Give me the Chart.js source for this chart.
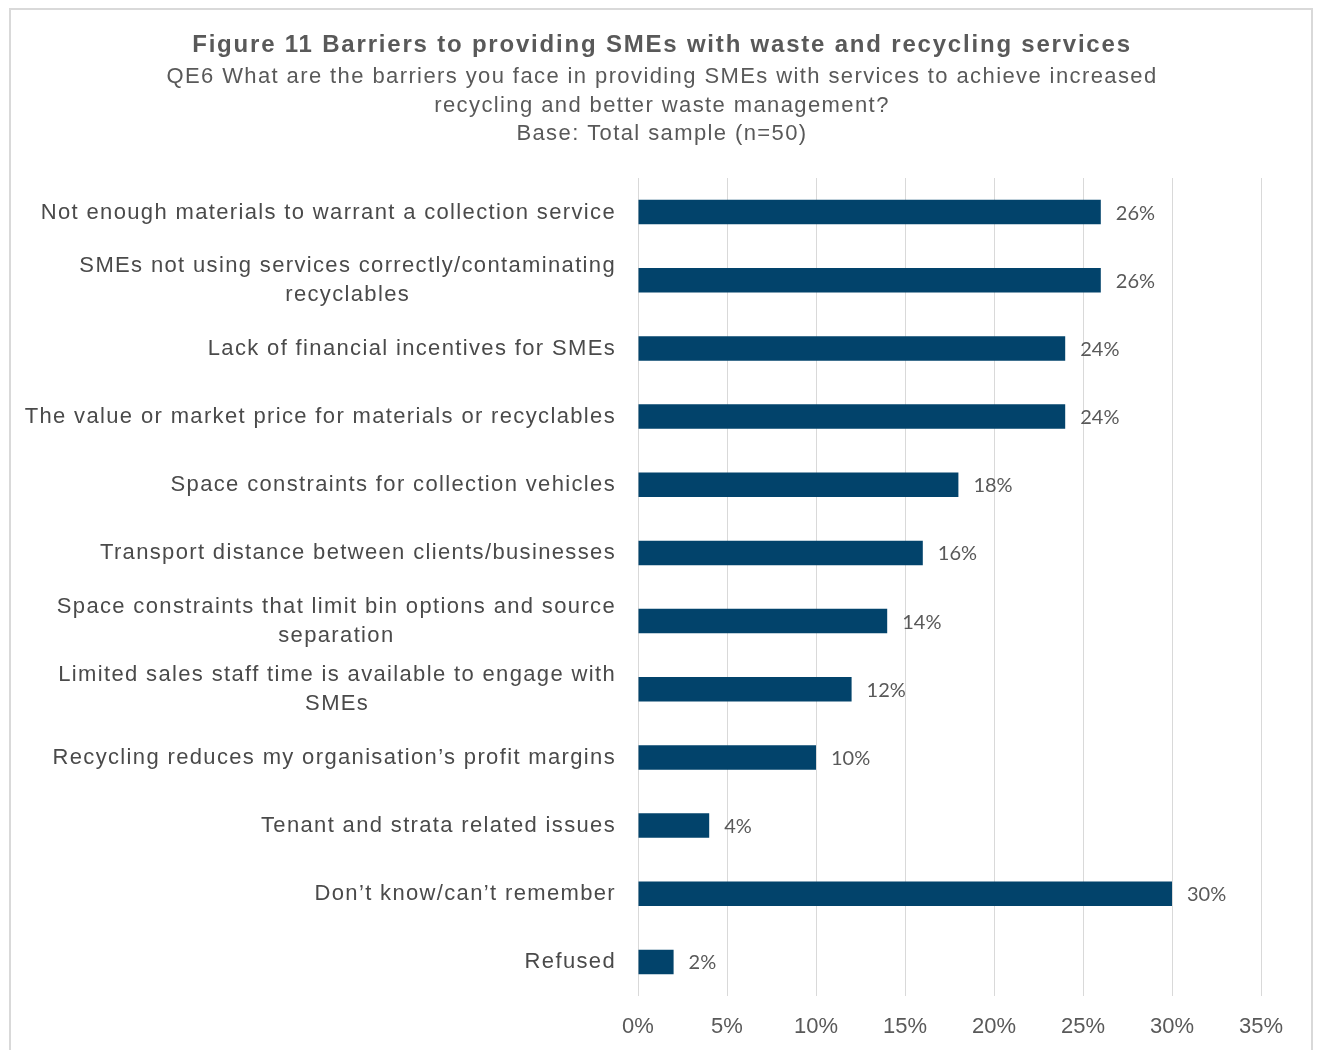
<!DOCTYPE html>
<html>
<head>
<meta charset="utf-8">
<script src="https://cdn.jsdelivr.net/npm/chart.js@4"></script>
<style>
  html, body { margin: 0; padding: 0; background: #ffffff; }
  #wrap { position: relative; width: 1317px; height: 1050px; overflow: hidden; }
  #frame { position: absolute; left: 9px; top: 8px; width: 1304px; height: 1060px; border: 2px solid #d9d9d9; box-sizing: border-box; }
  canvas { position: absolute; left: 0; top: 0; }
</style>
</head>
<body>
<div id="wrap">
  <div id="frame"></div>
  <canvas id="chart" width="1317" height="1050"></canvas>
</div>
<script>
// categories and values (percent of respondents)
const categories = [
    ['Not enough materials to warrant a collection service'],
    ['SMEs not using services correctly/contaminating', 'recyclables'],
    ['Lack of financial incentives for SMEs'],
    ['The value or market price for materials or recyclables'],
    ['Space constraints for collection vehicles'],
    ['Transport distance between clients/businesses'],
    ['Space constraints that limit bin options and source', 'separation'],
    ['Limited sales staff time is available to engage with', 'SMEs'],
    ['Recycling reduces my organisation\u2019s profit margins'],
    ['Tenant and strata related issues'],
    ['Don\u2019t know/can\u2019t remember'],
    ['Refused']
];
const values = [26, 26, 24, 24, 18, 16, 14, 12, 10, 4, 30, 2];
const xTicks = [0, 5, 10, 15, 20, 25, 30, 35];

const titleText = 'Figure 11 Barriers to providing SMEs with waste and recycling services';
const subtitleLines = [
    'QE6 What are the barriers you face in providing SMEs with services to achieve increased',
    'recycling and better waste management?',
    'Base: Total sample (n=50)'
];

const barColor = '#02436b';
const sans = '"Liberation Sans", Arial, sans-serif';

// title block, drawn above the plot area
const titleBlock = {
    id: 'titleBlock',
    afterDraw(chart) {
        const c = chart.ctx;
        c.save();
        c.textAlign = 'center';
        c.textBaseline = 'alphabetic';
        c.fillStyle = '#595959';
        c.letterSpacing = '1.8px';
        c.font = 'bold 24px ' + sans;
        c.fillText(titleText, 662, 52);
        c.letterSpacing = '1.4px';
        c.font = '22px ' + sans;
        subtitleLines.forEach((l, i) => c.fillText(l, 662, 83 + i * 28.5));
        c.restore();
    }
};

// category labels: block right aligned, lines centred within the block
const categoryLabels = {
    id: 'categoryLabels',
    afterDraw(chart) {
        const c = chart.ctx;
        const y = chart.scales.y;
        const right = chart.chartArea.left - 22;
        c.save();
        c.font = '22px ' + sans;
        c.letterSpacing = '1.35px';
        c.fillStyle = '#4a4a4a';
        c.textBaseline = 'alphabetic';
        c.textAlign = 'center';
        const lh = 29;
        categories.forEach((lines, i) => {
            const w = Math.max(...lines.map(l => c.measureText(l).width));
            const cx = right - w / 2;
            const cy = y.getPixelForValue(i) + 6.5;
            const y0 = cy - (lines.length - 1) * lh / 2;
            lines.forEach((l, k) => c.fillText(l, cx, y0 + k * lh));
        });
        c.restore();
    }
};

// value labels at the end of each bar
const valueLabels = {
    id: 'valueLabels',
    afterDatasetsDraw(chart) {
        const c = chart.ctx;
        const meta = chart.getDatasetMeta(0);
        c.save();
        c.font = '20px Lato, "Open Sans", sans-serif';
        c.fillStyle = '#595959';
        c.textAlign = 'left';
        c.textBaseline = 'middle';
        meta.data.forEach((bar, i) => {
            c.fillText(values[i] + '%', bar.x + 15, bar.y + 1);
        });
        c.restore();
    }
};

new Chart(document.getElementById('chart').getContext('2d'), {
    type: 'bar',
    data: {
        labels: categories.map(l => l.join(' ')),
        datasets: [{
            data: values,
            backgroundColor: barColor,
            borderWidth: 0,
            barPercentage: 0.36,
            categoryPercentage: 1
        }]
    },
    options: {
        indexAxis: 'y',
        responsive: false,
        animation: false,
        layout: { padding: { top: 178, left: 10, right: 56, bottom: 0 } },
        scales: {
            x: {
                min: 0,
                max: 35,
                afterBuildTicks: scale => { scale.ticks = xTicks.map(v => ({ value: v })); },
                afterFit: scale => { scale.height = 54; },
                grid: { color: '#d9d9d9', lineWidth: 1, drawTicks: false },
                border: { display: false },
                ticks: {
                    padding: 18,
                    color: '#595959',
                    font: { family: sans, size: 22 },
                    callback: v => v + '%'
                }
            },
            y: {
                grid: { display: false, drawTicks: false },
                border: { display: false },
                ticks: { display: false },
                afterFit: scale => { scale.width = 628; }
            }
        },
        plugins: {
            legend: { display: false },
            tooltip: { enabled: false },
            title: { display: false }
        }
    },
    plugins: [titleBlock, categoryLabels, valueLabels]
});
</script>
</body>
</html>
